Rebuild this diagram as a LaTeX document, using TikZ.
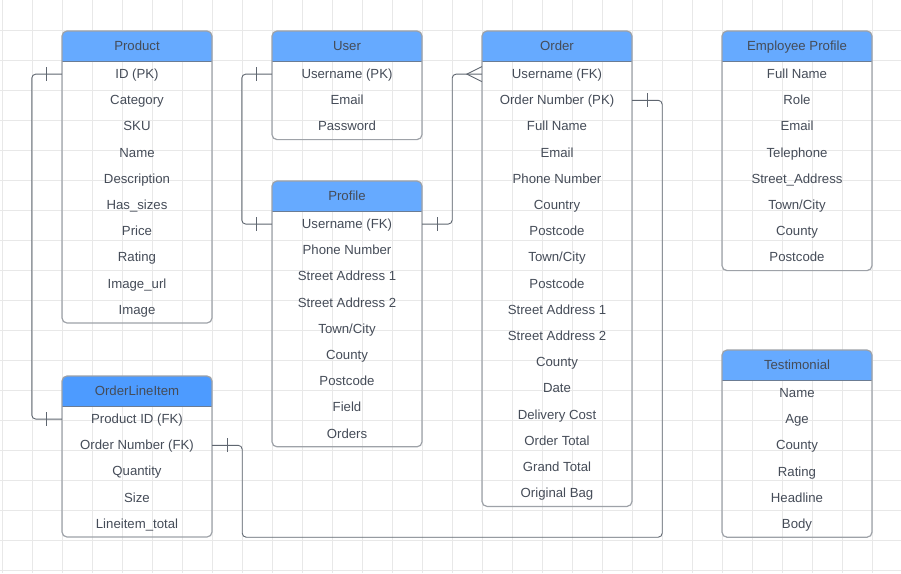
\documentclass[tikz,border=0pt]{standalone}
\usepackage{fontspec}
\setmainfont{Liberation Sans}
\usetikzlibrary{calc}
\definecolor{gridc}{HTML}{E8E8E8}
\definecolor{hdrblue}{HTML}{66AAFF}
\definecolor{hdrdark}{HTML}{4D9BFF}
\definecolor{bordc}{HTML}{9EA2A8}
\definecolor{sepc}{HTML}{6B7C93}
\definecolor{txtc}{HTML}{454C58}
\definecolor{connc}{HTML}{5F6670}
\tikzset{
  gridline/.style={draw=gridc, line width=0.8pt},
  rowbox/.style={minimum width=150pt, minimum height=26.2pt, inner sep=0pt, text height=9.4pt, text depth=2.8pt, text=txtc, font=\fontsize{13.2}{15}\selectfont},
  hdrbox/.style={minimum width=150pt, minimum height=30pt, inner sep=0pt, text height=9.4pt, text depth=2.8pt, text=txtc, font=\fontsize{13.2}{15}\selectfont},
  frame/.style={draw=bordc, line width=1.2pt, rounded corners=5pt},
  sepline/.style={draw=sepc, line width=1pt},
  conn/.style={draw=connc, line width=0.9pt},
}
% #1 name, #2 x, #3 y, #4 title, #5 header colour, #6 rows, #7 row count
\newcommand{\entity}[7]{%
  \fill[#5] (#2,#3+30) [rounded corners=5pt]-- (#2,#3) -- (#2+150,#3) [sharp corners]-- (#2+150,#3+30) -- cycle;
  \node[hdrbox] (#1) at (#2+75,#3+15) {\raisebox{-1pt}{#4}};
  \foreach \t [count=\i] in {#6} {
    \node[rowbox] (#1-\i) at ({#2+75},{#3+30+13.1*(2*\i-1)}) {\raisebox{-1pt}{\t}};
  }
  \draw[sepline] (#2,#3+30) -- (#2+150,#3+30);
  \draw[frame] (#2,#3) rectangle (#2+150,{#3+30+26.2*#7});
}
\begin{document}
\begin{tikzpicture}[x=1pt,y=-1pt]
\useasboundingbox (0,0) rectangle (901,573);
\fill[white] (0,0) rectangle (901,573);
\foreach \gx in {2,32,...,872} \draw[gridline] (\gx,0) -- (\gx,573);
\foreach \gy in {30,60,...,570} \draw[gridline] (0,\gy) -- (901,\gy);

\entity{prod}{62}{31}{Product}{hdrblue}{ID (PK),Category,SKU,Name,Description,Has\_sizes,Price,Rating,Image\_url,Image}{10}
\entity{user}{272}{31}{User}{hdrblue}{Username (PK),Email,Password}{3}
\entity{prof}{272}{181}{Profile}{hdrblue}{Username (FK),Phone Number,Street Address 1,Street Address 2,Town/City,County,Postcode,Field,Orders}{9}
\entity{ord}{482}{31}{Order}{hdrblue}{Username (FK),Order Number (PK),Full Name,Email,Phone Number,Country,Postcode,Town/City,Postcode,Street Address 1,Street Address 2,County,Date,Delivery Cost,Order Total,Grand Total,Original Bag}{17}
\entity{emp}{722}{31}{Employee Profile}{hdrblue}{Full Name,Role,Email,Telephone,Street\_Address,Town/City,County,Postcode}{8}
\entity{oli}{62}{376}{OrderLineItem}{hdrdark}{Product ID (FK),Order Number (FK),Quantity,Size,Lineitem\_total}{5}
\entity{test}{722}{350}{Testimonial}{hdrblue}{Name,Age,County,Rating,Headline,Body}{6}

% Product -- OrderLineItem
\draw[conn, rounded corners=4pt] (prod-1.west) -- ++(-30,0) |- (oli-1.west);
\draw[conn] ($(prod-1.west)+(-15,-7)$) -- ++(0,14);
\draw[conn] ($(oli-1.west)+(-15,-7)$) -- ++(0,14);

% User -- Profile
\draw[conn, rounded corners=4pt] (user-1.west) -- ++(-30,0) |- (prof-1.west);
\draw[conn] ($(user-1.west)+(-15,-7)$) -- ++(0,14);
\draw[conn] ($(prof-1.west)+(-15,-7)$) -- ++(0,14);

% Profile -- Order
\draw[conn, rounded corners=4pt] (prof-1.east) -- ++(30,0) |- (ord-1.west);
\draw[conn] ($(prof-1.east)+(15,-7)$) -- ++(0,14);
\draw[conn] ($(ord-1.west)+(0,-7.5)$) -- ($(ord-1.west)+(-15,0)$) -- ($(ord-1.west)+(0,7.5)$);

% Order -- OrderLineItem
\coordinate (lowturn) at ($(oli-5.south -| oli-2.east)+(30,0)$);
\draw[conn, rounded corners=4pt] (ord-2.east) -- ++(30,0) |- (lowturn) |- (oli-2.east);
\draw[conn] ($(ord-2.east)+(15,-7)$) -- ++(0,14);
\draw[conn] ($(oli-2.east)+(15,-7)$) -- ++(0,14);
\end{tikzpicture}
\end{document}
